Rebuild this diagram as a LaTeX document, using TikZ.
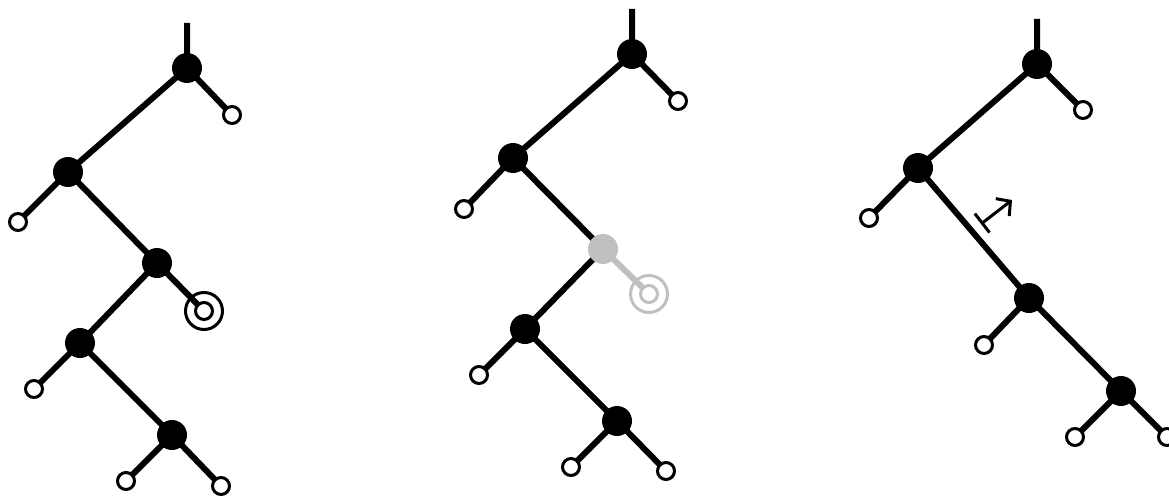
\documentclass[tikz,border=0pt]{standalone}
\usetikzlibrary{arrows.meta}
\definecolor{lgrey}{RGB}{192,192,192}
\tikzset{
  inner/.style={circle,fill=black,minimum size=30pt,inner sep=0pt},
  leaf/.style={circle,draw=black,fill=white,line width=3pt,minimum size=17pt,inner sep=0pt},
  edge/.style={line width=6pt},
  ring/.style={circle,draw=black,line width=3pt,minimum size=37pt,inner sep=0pt},
}
\begin{document}
\begin{tikzpicture}[x=1pt,y=-1pt]
\useasboundingbox (0,0) rectangle (1169,495);
% ---- tree 1
\coordinate (s1) at (187,23);
\coordinate (a1) at (187,68);
\coordinate (l1a) at (232,115);
\coordinate (b1) at (68,172);
\coordinate (l1b) at (18,222);
\coordinate (c1) at (157,263);
\coordinate (l1c) at (204,311);
\coordinate (d1) at (80,343);
\coordinate (l1d) at (34,389);
\coordinate (e1) at (172,435);
\coordinate (l1e) at (126,481);
\coordinate (l1f) at (221,486);
\draw[edge] (s1)--(a1)--(l1a) (a1)--(b1)--(l1b) (b1)--(c1)--(l1c) (c1)--(d1)--(l1d) (d1)--(e1)--(l1e) (e1)--(l1f);
\foreach \n in {a1,b1,c1,d1,e1} \node[inner] (N\n) at (\n) {};
\foreach \n in {l1a,l1b,l1c,l1d,l1e,l1f} \node[leaf] (N\n) at (\n) {};
\node[ring] (R1) at (l1c) {};
% ---- tree 2
\coordinate (s2) at (632,9);
\coordinate (a2) at (632,54);
\coordinate (l2a) at (678,101);
\coordinate (b2) at (513,158);
\coordinate (l2b) at (464,209);
\coordinate (c2) at (603,249);
\coordinate (l2c) at (649,294);
\coordinate (d2) at (525,329);
\coordinate (l2d) at (479,375);
\coordinate (e2) at (617,421);
\coordinate (l2e) at (571,467);
\coordinate (l2f) at (666,471);
\draw[edge] (s2)--(a2)--(l2a) (a2)--(b2)--(l2b) (b2)--(c2)--(d2)--(l2d) (d2)--(e2)--(l2e) (e2)--(l2f);
\draw[edge,lgrey] (c2)--(l2c);
\foreach \n in {a2,b2,d2,e2} \node[inner] (N\n) at (\n) {};
\node[inner,fill=lgrey] (Nc2) at (c2) {};
\foreach \n in {l2a,l2b,l2d,l2e,l2f} \node[leaf] (N\n) at (\n) {};
\node[leaf,draw=lgrey] (Nl2c) at (l2c) {};
\node[ring,draw=lgrey] (R2) at (l2c) {};
% ---- tree 3
\coordinate (s3) at (1037,19);
\coordinate (a3) at (1037,64);
\coordinate (l3a) at (1083,110);
\coordinate (b3) at (918,168);
\coordinate (l3b) at (869,218);
\coordinate (e3) at (1029,298);
\coordinate (l3e) at (984,345);
\coordinate (f3) at (1121,391);
\coordinate (l3f) at (1075,437);
\coordinate (l3g) at (1167,437);
\draw[edge] (s3)--(a3)--(l3a) (a3)--(b3)--(l3b) (b3)--(e3)--(l3e) (e3)--(f3)--(l3f) (f3)--(l3g);
\foreach \n in {a3,b3,e3,f3} \node[inner] (N\n) at (\n) {};
\foreach \n in {l3a,l3b,l3e,l3f,l3g} \node[leaf] (N\n) at (\n) {};
\coordinate (m0) at (981,224);
\coordinate (m1) at (1012,200);
\draw[line width=3pt,{Bar[width=24pt]}-{Straight Barb[length=10pt,width=22pt]}] (m0)--(m1);
\end{tikzpicture}
\end{document}
